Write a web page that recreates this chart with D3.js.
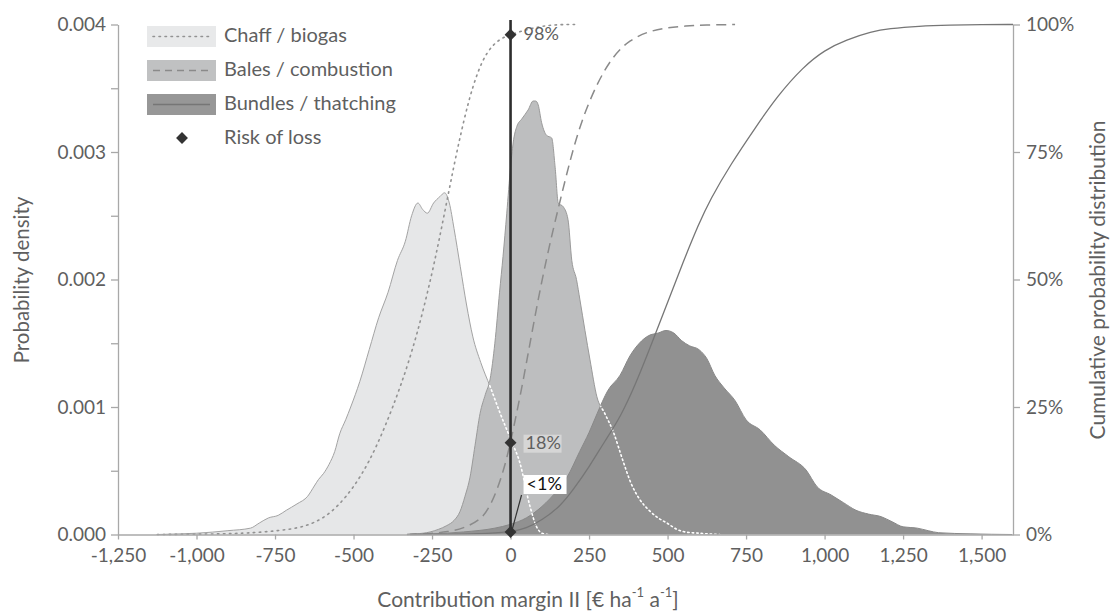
<!DOCTYPE html>
<html>
<head>
<meta charset="utf-8">
<script src="https://cdn.jsdelivr.net/npm/d3@7"></script>
<style>
  html, body { margin: 0; padding: 0; background: #fff; }
  svg { display: block; font-family: Lato, "Open Sans", sans-serif; }
</style>
</head>
<body>
<svg id="chart" width="1120" height="615"></svg>
<script>
// Probability density of contribution margin II per utilisation pathway [x, density]
const chaffDensity = [[-1125,0],[-1050,0.000005],[-1000,0.00001],[-900,0.00003],[-828,0.00005],[-800,0.00009],[-771,0.00013],[-740,0.00015],[-714,0.00019],[-680,0.00024],[-646,0.0003],[-625,0.00038],[-612,0.00043],[-595,0.00048],[-578,0.00055],[-560,0.00065],[-544,0.00079],[-525,0.0009],[-509,0.001],[-480,0.0012],[-450,0.00145],[-420,0.0017],[-390,0.0019],[-360,0.00215],[-335,0.0023],[-315,0.0025],[-295,0.0026],[-280,0.00255],[-265,0.00252],[-245,0.0026],[-225,0.00265],[-210,0.00268],[-195,0.0026],[-180,0.0024],[-160,0.0021],[-140,0.0018],[-120,0.00155],[-95,0.00135],[-65,0.00116],[-33,0.00095],[0,0.00075],[30,0.00056],[62,0.00022],[83,0.00006],[100,0.00001],[120,0]];
const balesDensity = [[-330,0],[-300,0.000005],[-256,0.00002],[-230,0.00004],[-203,0.00007],[-180,0.00011],[-161,0.00018],[-145,0.0003],[-129,0.00045],[-113,0.0007],[-97,0.00095],[-80,0.0011],[-65,0.00122],[-50,0.0015],[-35,0.0019],[-24,0.00218],[-12,0.00252],[0,0.00288],[10,0.0031],[20,0.0032],[36,0.00326],[56,0.00333],[72,0.0034],[80,0.0034],[88,0.00337],[99,0.00323],[115,0.00313],[131,0.00311],[142,0.00288],[152,0.0026],[168,0.00257],[183,0.00247],[195,0.00215],[210,0.002],[221,0.00184],[237,0.0016],[253,0.00137],[275,0.00108],[300,0.00095],[328,0.0008],[355,0.0006],[384,0.0004],[410,0.00028],[441,0.00019],[470,0.00013],[498,0.00009],[530,0.00004],[556,0.00002],[600,0.00001],[667,0]];
const bundlesDensity = [[-320,0],[-250,0.000005],[-150,0.00002],[-50,0.00005],[0,0.00008],[50,0.00013],[100,0.00022],[150,0.00035],[180,0.00045],[220,0.00065],[250,0.0008],[276,0.00095],[310,0.00113],[349,0.00125],[380,0.0014],[410,0.0015],[440,0.00156],[470,0.00158],[495,0.0016],[520,0.00158],[545,0.00152],[570,0.00148],[600,0.00145],[625,0.00138],[650,0.00125],[680,0.00115],[715,0.00105],[750,0.0009],[795,0.00082],[840,0.0007],[886,0.00061],[941,0.000506],[976,0.000375],[1021,0.00031],[1060,0.00025],[1100,0.00019],[1140,0.00016],[1180,0.00014],[1215,0.0001],[1250,0.00006],[1295,0.00005],[1330,0.00003],[1363,0.000014],[1466,0.000005],[1597,0]];

// Cumulative probability distribution [x, share]
const chaffCumulative = [[-1125,0],[-900,0.001],[-800,0.004],[-700,0.01],[-650,0.017],[-600,0.03],[-550,0.055],[-500,0.092],[-450,0.142],[-400,0.21],[-350,0.29],[-300,0.385],[-250,0.51],[-215,0.615],[-180,0.725],[-148,0.815],[-120,0.88],[-90,0.93],[-60,0.958],[-30,0.973],[0,0.98],[50,0.99],[100,0.997],[150,1],[215,1]];
const balesCumulative = [[-330,0],[-250,0.002],[-200,0.005],[-150,0.012],[-97,0.028],[-70,0.05],[-44,0.085],[-20,0.13],[0,0.18],[20,0.24],[40,0.3],[75,0.42],[115,0.545],[158,0.655],[190,0.735],[225,0.81],[275,0.885],[328,0.94],[380,0.97],[441,0.987],[500,0.994],[556,0.997],[620,0.999],[715,1]];
const bundlesCumulative = [[-320,0],[-200,0.0002],[-100,0.001],[0,0.005],[50,0.012],[100,0.028],[158,0.055],[200,0.088],[250,0.132],[300,0.183],[350,0.23],[400,0.297],[450,0.375],[500,0.455],[550,0.535],[600,0.61],[635,0.656],[700,0.725],[782,0.8],[850,0.86],[932,0.917],[1000,0.95],[1069,0.97],[1150,0.986],[1204,0.992],[1300,0.997],[1400,0.999],[1500,1],[1600,1]];

// Risk of loss = cumulative share at a contribution margin of zero
const riskValues = [0.98, 0.18, 0.005];
const riskLabels = ["98%", "18%", "<1%"];

const legendLabels = ["Chaff / biogas", "Bales / combustion", "Bundles / thatching", "Risk of loss"];
const xTicks = [-1250, -1000, -750, -500, -250, 0, 250, 500, 750, 1000, 1250, 1500];
const densityTicks = [0, 0.0005, 0.001, 0.0015, 0.002, 0.0025, 0.003, 0.0035, 0.004];
const cumulativeTicks = [0, 0.25, 0.5, 0.75, 1];

const svg = d3.select("#chart");
const textColor = "#5f5f5f";
const axisColor = "#a8a8a8";

const x = d3.scaleLinear().domain([-1250, 1600]).range([118, 1013]);
const yD = d3.scaleLinear().domain([0, 0.004]).range([534.5, 24.5]);
const yC = d3.scaleLinear().domain([0, 1]).range([534.5, 24.5]);

const densArea = d3.area().x(d => x(d[0])).y0(yD(0)).y1(d => yD(d[1])).curve(d3.curveMonotoneX);
const densLine = d3.line().x(d => x(d[0])).y(d => yD(d[1])).curve(d3.curveMonotoneX);
const cumLine = d3.line().x(d => x(d[0])).y(d => yC(d[1])).curve(d3.curveBasis);

const defs = svg.append("defs");
// clip regions: parts of a curve hidden behind later (opaque) fills
defs.append("clipPath").attr("id", "behindBalesBundles")
  .call(c => { c.append("path").attr("d", densArea(balesDensity)); c.append("path").attr("d", densArea(bundlesDensity)); });
defs.append("clipPath").attr("id", "behindBundles")
  .append("path").attr("d", densArea(bundlesDensity));

const fills = ["#e6e7e8", "#bdbebf", "#919191"];
const edges = ["#a3a3a3", "#9a9a9a", "#888888"];

// density areas
[chaffDensity, balesDensity, bundlesDensity].forEach((s, i) => {
  svg.append("path").attr("d", densArea(s)).attr("fill", fills[i]);
  svg.append("path").attr("d", densLine(s)).attr("fill", "none")
    .attr("stroke", edges[i]).attr("stroke-width", 1);
});

// hidden density tails shown as white dotted lines
svg.append("path").attr("d", densLine(chaffDensity)).attr("clip-path", "url(#behindBalesBundles)")
  .attr("fill", "none").attr("stroke", "#fff").attr("stroke-width", 1.6)
  .attr("stroke-dasharray", "1.5,3").attr("stroke-linecap", "round");
svg.append("path").attr("d", densLine(balesDensity)).attr("clip-path", "url(#behindBundles)")
  .attr("fill", "none").attr("stroke", "#fff").attr("stroke-width", 1.6)
  .attr("stroke-dasharray", "1.5,3").attr("stroke-linecap", "round");

// cumulative curves
const cumStyles = [
  { color: "#929292", dash: "1.5,4.5", width: 1.6, cap: "round" },
  { color: "#8a8a8a", dash: "10,6", width: 1.5, cap: "butt" },
  { color: "#767676", dash: null, width: 1.3, cap: "butt" }
];
[chaffCumulative, balesCumulative, bundlesCumulative].forEach((s, i) => {
  svg.append("path").attr("d", cumLine(s)).attr("fill", "none")
    .attr("stroke", cumStyles[i].color).attr("stroke-width", cumStyles[i].width)
    .attr("stroke-dasharray", cumStyles[i].dash).attr("stroke-linecap", cumStyles[i].cap);
});

// axes
const fmtX = d3.formatLocale({ decimal: ".", thousands: ",", grouping: [3], currency: ["", ""], minus: "-" }).format(",");
const styleAxis = g => {
  g.select(".domain").attr("stroke", axisColor).attr("stroke-width", 1.3);
  g.selectAll(".tick line").attr("stroke", axisColor).attr("stroke-width", 1.3);
  g.selectAll(".tick text").attr("fill", textColor).attr("font-size", 19).attr("font-family", "Lato, sans-serif");
};

svg.append("g").attr("transform", `translate(0,${yD(0)})`)
  .call(d3.axisBottom(x).tickValues(xTicks).tickFormat(fmtX).tickSize(5).tickPadding(9).tickSizeOuter(0))
  .call(styleAxis);

svg.append("g").attr("transform", `translate(${x(-1250)},0)`)
  .call(d3.axisLeft(yD).tickValues(densityTicks)
    .tickFormat(d => (Math.round(d * 10000) % 10 === 0 ? d3.format(".3f")(d) : ""))
    .tickSize(7).tickPadding(5).tickSizeOuter(0))
  .call(styleAxis);

svg.append("g").attr("transform", `translate(${x(1600)},0)`)
  .call(d3.axisRight(yC).tickValues(cumulativeTicks).tickFormat(d3.format(".0%"))
    .tickSize(7).tickPadding(6).tickSizeOuter(0))
  .call(styleAxis);

// break-even line at a contribution margin of zero
svg.append("line").attr("x1", x(0)).attr("x2", x(0)).attr("y1", yD(0)).attr("y2", 20)
  .attr("stroke", "#2e2e2e").attr("stroke-width", 2.6);

const diamond = d3.symbol().type(d3.symbolDiamond2).size(90);
riskValues.forEach(v => {
  svg.append("path").attr("d", diamond()).attr("transform", `translate(${x(0)},${yC(v)})`)
    .attr("fill", "#333");
});

// risk labels
svg.append("text").attr("x", x(0) + 13).attr("y", yC(riskValues[0]) + 1).attr("dominant-baseline", "middle")
  .attr("fill", textColor).attr("font-size", 18).text(riskLabels[0]);

svg.append("rect").attr("x", x(0) + 13).attr("y", yC(riskValues[1]) - 8).attr("width", 38).attr("height", 18)
  .attr("fill", "#d6d6d6");
svg.append("text").attr("x", x(0) + 15).attr("y", yC(riskValues[1]) + 1.5).attr("dominant-baseline", "middle")
  .attr("fill", textColor).attr("font-size", 18).text(riskLabels[1]);

svg.append("line").attr("x1", x(0) + 11).attr("y1", 495).attr("x2", x(0) + 1).attr("y2", yC(riskValues[2]))
  .attr("stroke", "#333").attr("stroke-width", 1.2);
svg.append("rect").attr("x", x(0) + 13).attr("y", 475).attr("width", 43).attr("height", 19).attr("fill", "#fff");
svg.append("text").attr("x", x(0) + 16).attr("y", 485).attr("dominant-baseline", "middle")
  .attr("fill", "#111").attr("font-size", 18).text(riskLabels[2]);

// legend
const legend = svg.append("g");
const boxFills = ["#e8e9ea", "#c0c1c2", "#979797"];
[0, 1, 2].forEach(i => {
  const ty = 26 + i * 34;
  legend.append("rect").attr("x", 147).attr("y", ty).attr("width", 69).attr("height", 21).attr("fill", boxFills[i]);
  legend.append("line").attr("x1", 153).attr("x2", 210).attr("y1", ty + 10.5).attr("y2", ty + 10.5)
    .attr("stroke", cumStyles[i].color).attr("stroke-width", cumStyles[i].width)
    .attr("stroke-dasharray", i === 1 ? "7,5" : cumStyles[i].dash).attr("stroke-linecap", cumStyles[i].cap);
});
legend.append("path").attr("d", diamond()).attr("transform", "translate(182,138)").attr("fill", "#333");
legendLabels.forEach((t, i) => {
  legend.append("text").attr("x", 224).attr("y", 37 + i * 34).attr("dominant-baseline", "middle")
    .attr("fill", textColor).attr("font-size", 20).text(t);
});

// axis titles
const xTitle = svg.append("text").attr("x", 528).attr("y", 602).attr("text-anchor", "middle")
  .attr("dominant-baseline", "middle").attr("fill", textColor).attr("font-size", 21);
xTitle.append("tspan").text("Contribution margin II [€ ha");
xTitle.append("tspan").attr("font-size", 13).attr("dy", -8).text("-1");
xTitle.append("tspan").attr("dy", 8).text(" a");
xTitle.append("tspan").attr("font-size", 13).attr("dy", -8).text("-1");
xTitle.append("tspan").attr("dy", 8).text("]");

svg.append("text").attr("transform", "translate(24,280) rotate(-90)").attr("text-anchor", "middle")
  .attr("dominant-baseline", "middle").attr("fill", textColor).attr("font-size", 20.5).text("Probability density");
svg.append("text").attr("transform", "translate(1100,280) rotate(-90)").attr("text-anchor", "middle")
  .attr("dominant-baseline", "middle").attr("fill", textColor).attr("font-size", 21).text("Cumulative probability distribution");
</script>
</body>
</html>
